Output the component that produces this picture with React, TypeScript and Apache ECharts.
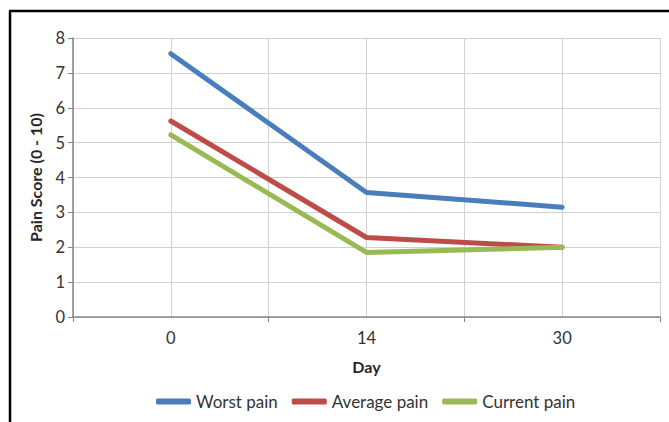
import React, { useEffect, useRef } from "react";
import * as echarts from "echarts";

const days = ["0", "14", "30"];
const worstPain = [7.55, 3.57, 3.15];
const averagePain = [5.62, 2.28, 2.0];
const currentPain = [5.22, 1.85, 2.0];
const yTicks = [0, 1, 2, 3, 4, 5, 6, 7, 8];

const seriesDefs = [
  { name: "Worst pain", values: worstPain, color: "#4A7EBB" },
  { name: "Average pain", values: averagePain, color: "#BE4B48" },
  { name: "Current pain", values: currentPain, color: "#98B954" },
];

// category slots: boundaries and centres alternate, day i sits at slot 2*i+1
const slots = Array.from({ length: days.length * 2 + 1 }, (_, i) => "s" + i);

export default function App() {
  const ref = useRef<HTMLDivElement>(null);
  useEffect(() => {
    if (!ref.current) return;
    const chart = echarts.init(ref.current, null, { renderer: "svg" });
    const font = "Lato, 'Open Sans', sans-serif";
    chart.setOption({
      animation: false,
      textStyle: { fontFamily: font },
      grid: { left: 73, right: 9, top: 38, bottom: 105, containLabel: false },
      xAxis: {
        type: "category",
        data: slots,
        boundaryGap: false,
        name: "Day",
        nameLocation: "middle",
        nameGap: 41,
        nameTextStyle: { fontFamily: font, fontSize: 16, fontWeight: "bold", color: "#262626" },
        axisLine: { show: true, lineStyle: { color: "#868686", width: 1.5 } },
        axisTick: {
          show: true,
          length: 5,
          interval: (i: number) => i % 2 === 0,
          lineStyle: { color: "#868686" },
        },
        axisLabel: {
          interval: 0,
          margin: 12,
          fontSize: 16.5,
          color: "#333",
          fontFamily: font,
          formatter: (_v: string, i: number) => (i % 2 === 1 ? days[(i - 1) / 2] : ""),
        },
        splitLine: { show: true, interval: 0, lineStyle: { color: "#D0D0D0", width: 1 } },
      },
      yAxis: {
        type: "value",
        min: yTicks[0],
        max: yTicks[yTicks.length - 1],
        interval: 1,
        name: "Pain Score (0 - 10)",
        nameLocation: "middle",
        nameGap: 30,
        nameTextStyle: { fontFamily: font, fontSize: 16, fontWeight: "bold", color: "#262626" },
        axisLine: { show: true, lineStyle: { color: "#868686", width: 1.5 } },
        axisTick: { show: true, length: 5, lineStyle: { color: "#868686" } },
        axisLabel: { fontSize: 16.5, color: "#333", margin: 8, fontFamily: font },
        splitLine: { show: true, lineStyle: { color: "#D0D0D0", width: 1 } },
      },
      legend: {
        bottom: 7,
        left: 151,
        itemWidth: 35,
        itemHeight: 6,
        itemGap: 14,
        icon: "roundRect",
        textStyle: { fontSize: 17, color: "#333", fontFamily: font },
        data: seriesDefs.map((s) => s.name),
      },
      graphic: [
        { type: "line", shape: { x1: 10, y1: 11, x2: 10, y2: 422 }, style: { stroke: "#000", lineWidth: 2.5 } },
        { type: "line", shape: { x1: 9, y1: 11, x2: 669, y2: 11 }, style: { stroke: "#000", lineWidth: 2.5 } },
      ],
      series: seriesDefs.map((s) => ({
        name: s.name,
        type: "line",
        showSymbol: false,
        symbol: "none",
        itemStyle: { color: s.color },
        lineStyle: { color: s.color, width: 5, cap: "round", join: "round" },
        data: s.values.map((v, i) => [2 * i + 1, v]),
      })),
    });
    return () => chart.dispose();
  }, []);
  return (
    <div
      ref={ref}
      style={{ position: "fixed", left: 0, top: 0, width: 669, height: 422, background: "#fff" }}
    />
  );
}
